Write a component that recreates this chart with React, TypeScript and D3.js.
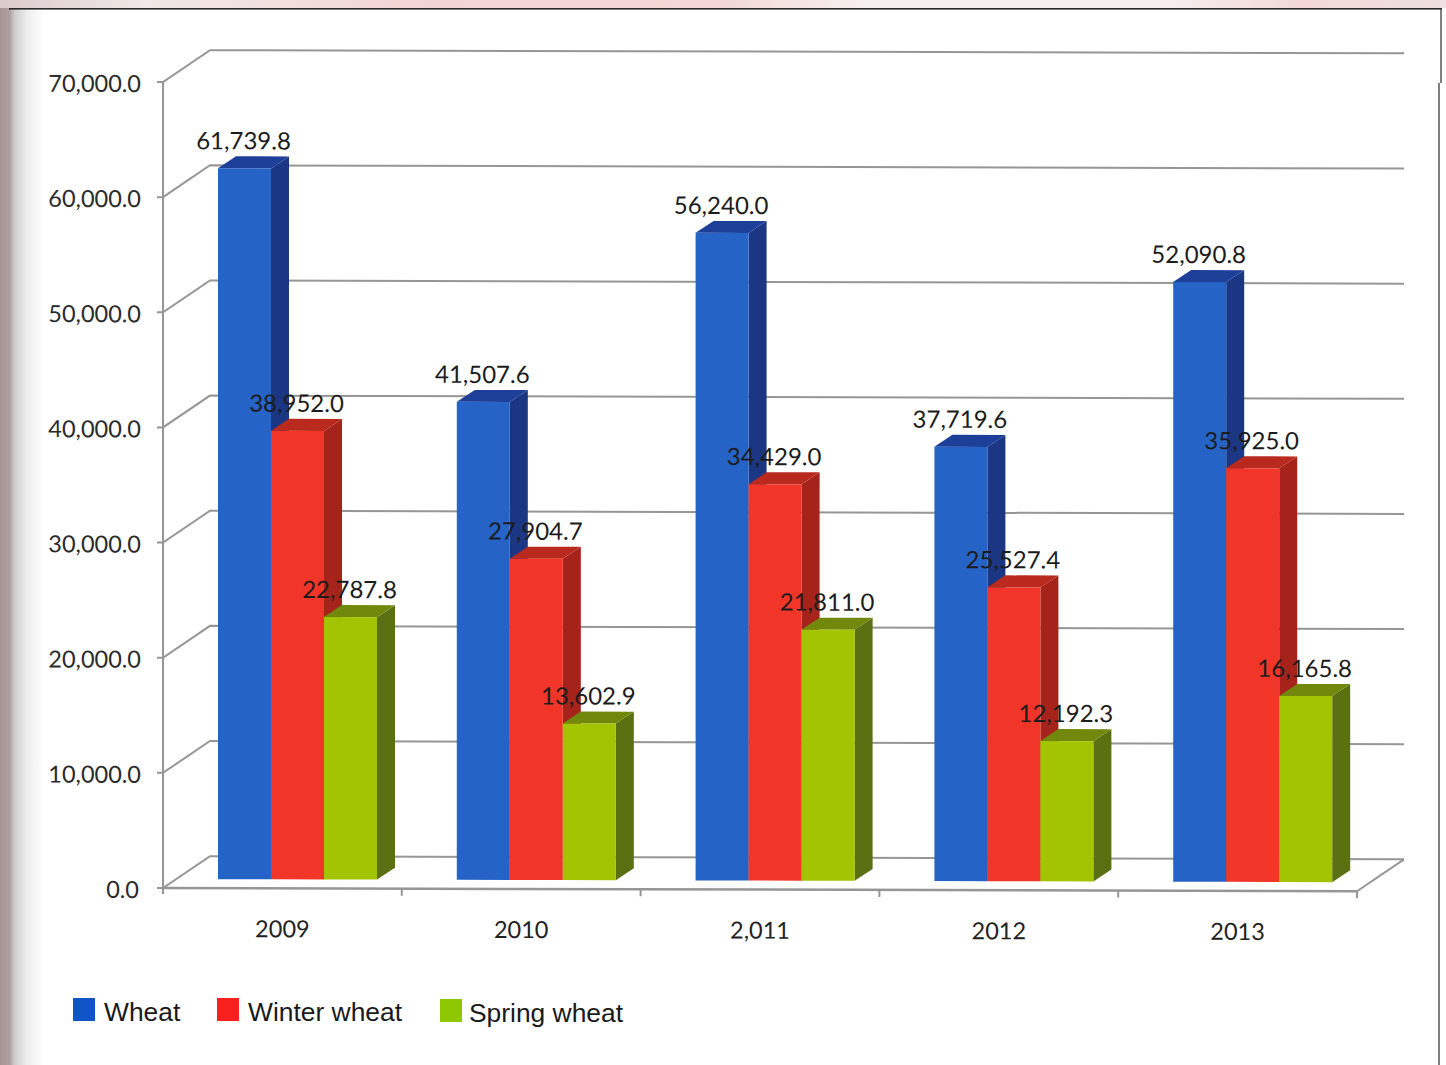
import React from "react";
import * as d3 from "d3";

const years = ["2009", "2010", "2,011", "2012", "2013"];
const seriesNames = ["Wheat", "Winter wheat", "Spring wheat"];
const wheat = [61739.8, 41507.6, 56240.0, 37719.6, 52090.8];
const winterWheat = [38952.0, 27904.7, 34429.0, 25527.4, 35925.0];
const springWheat = [22787.8, 13602.9, 21811.0, 12192.3, 16165.8];
const valueTicks = [0, 10000, 20000, 30000, 40000, 50000, 60000, 70000];

const seriesValues = [wheat, winterWheat, springWheat];
const frontColor = ["#2563c6", "#f13528", "#a3c400"];
const sideColor = ["#1b3783", "#a5231b", "#5b6f13"];
const topColor = ["#1d3f97", "#b9291d", "#71880c"];
const legendColor = ["#0f55c8", "#f81f1f", "#8fc800"];

const fmt = d3.format(",.1f");
const labelFont = "Lato, 'Open Sans', sans-serif";
const legendFont = "'Liberation Sans', Arial, sans-serif";
const gridColor = "#969696";

export default function App() {
  const y = d3.scaleLinear().domain([0, 70000]).range([888, 82]);
  const x = d3.scaleBand<string>().domain(years).range([163, 1357]);
  const dx = 47;
  const dy = -32;
  const depthX = 18;
  const depthY = -12;
  const barsLeft = 55;
  const barW = 53;
  const s = d3.scaleBand<number>().domain([0, 1, 2]).range([0, barW * 3]);
  const base = y(0) - 9;
  const barHeight = (v: number) => y(0) - y(v);
  const tilt = 0.0027;

  return (
    <svg
      width={1446}
      height={1065}
      viewBox="0 0 1446 1065"
      style={{ position: "absolute", left: 0, top: 0, display: "block" }}
    >
      <defs>
        <linearGradient id="leftEdge" x1="0" x2="1" y1="0" y2="0">
          <stop offset="0" stopColor="#a89494" />
          <stop offset="0.22" stopColor="#b0a0a0" />
          <stop offset="0.32" stopColor="#cccccc" />
          <stop offset="0.6" stopColor="#eeeeee" />
          <stop offset="1" stopColor="#ffffff" />
        </linearGradient>
        <linearGradient id="topEdge" x1="0" x2="1" y1="0" y2="0">
          <stop offset="0" stopColor="#dccccc" />
          <stop offset="0.1" stopColor="#f0e8e6" />
          <stop offset="0.3" stopColor="#f2d4d4" />
          <stop offset="0.5" stopColor="#f2d8d8" />
          <stop offset="0.6" stopColor="#f6f0ee" />
          <stop offset="0.8" stopColor="#f6f0ee" />
          <stop offset="0.9" stopColor="#f2d8d8" />
          <stop offset="1" stopColor="#eee0e0" />
        </linearGradient>
      </defs>
      <rect width={1446} height={1065} fill="#ffffff" />
      <rect x={0} y={0} width={45} height={1065} fill="url(#leftEdge)" />
      <rect x={0} y={0} width={1446} height={8} fill="url(#topEdge)" />
      <rect x={9} y={8} width={1433} height={1.6} fill="#2a2a2a" />
      <line x1={1441} y1={9} x2={1441} y2={83} stroke="#555" strokeWidth={1.5} />
      <line x1={1439} y1={83} x2={1439} y2={1065} stroke="#555" strokeWidth={1.5} />

      <g transform={`matrix(1 ${tilt} 0 1 0 ${-tilt * 163})`}>
        {valueTicks.map((t) => (
          <g key={t} fill="none" stroke={gridColor} strokeWidth={2}>
            <path d={`M157,${y(t)}H163L${163 + dx},${y(t) + dy}H${1357 + dx}`} />
          </g>
        ))}
        <line x1={163} x2={163} y1={y(70000)} y2={y(0) + 6} stroke={gridColor} strokeWidth={2} />
        <line x1={163} x2={1357} y1={y(0)} y2={y(0)} stroke={gridColor} strokeWidth={2.5} />
        <line x1={1357} x2={1357 + dx} y1={y(0)} y2={y(0) + dy} stroke={gridColor} strokeWidth={2} />
        {years.map((c) => (
          <line key={c} x1={(x(c) as number) + x.bandwidth()} x2={(x(c) as number) + x.bandwidth()} y1={y(0)} y2={y(0) + 7} stroke={gridColor} strokeWidth={2} />
        ))}

        {valueTicks.map((t) => (
          <text key={t} x={t === 0 ? 139 : 141} y={y(t) + 10} textAnchor="end" fontFamily={labelFont} fontSize={23.5} fill="#2b2b2b">
            {fmt(t)}
          </text>
        ))}
        {years.map((c) => (
          <text key={c} x={(x(c) as number) + x.bandwidth() / 2} y={y(0) + 49} textAnchor="middle" fontFamily={labelFont} fontSize={23.5} fill="#222">
            {c}
          </text>
        ))}

        {years.map((c, i) => {
          const gx = (x(c) as number) + barsLeft;
          return (
            <g key={c}>
              {seriesValues.map((vals, k) => {
                const bx = gx + (s(k) as number);
                const h = barHeight(vals[i]);
                const top = base - h;
                return (
                  <g key={k}>
                    <path d={`M${bx + barW},${top}l${depthX},${depthY}V${base + depthY}l${-depthX},${-depthY}Z`} fill={sideColor[k]} />
                    <path d={`M${bx},${top}l${depthX},${depthY}h${barW}l${-depthX},${-depthY}Z`} fill={topColor[k]} />
                    <rect x={bx} y={top} width={barW} height={h} fill={frontColor[k]} />
                  </g>
                );
              })}
            </g>
          );
        })}
        {years.map((c, i) => {
          const gx = (x(c) as number) + barsLeft;
          return seriesValues.map((vals, k) => (
            <text
              key={k}
              x={gx + (s(k) as number) + barW / 2 - 1}
              y={base - barHeight(vals[i]) - 19}
              textAnchor="middle"
              fontFamily={labelFont}
              fontSize={24}
              fill="#1c1c1c"
            >
              {fmt(vals[i])}
            </text>
          ));
        })}
      </g>

      {seriesNames.map((n, k) => {
        const lx = [73, 217, 440][k];
        const ly = [998, 998, 999][k];
        const gap = [31, 31, 29][k];
        return (
          <g key={n}>
            <rect x={lx} y={ly} width={22} height={23} fill={legendColor[k]} />
            <text x={lx + gap} y={ly + 23} fontFamily={legendFont} fontSize={26.4} fill="#1a1a1a">
              {n}
            </text>
          </g>
        );
      })}
    </svg>
  );
}
